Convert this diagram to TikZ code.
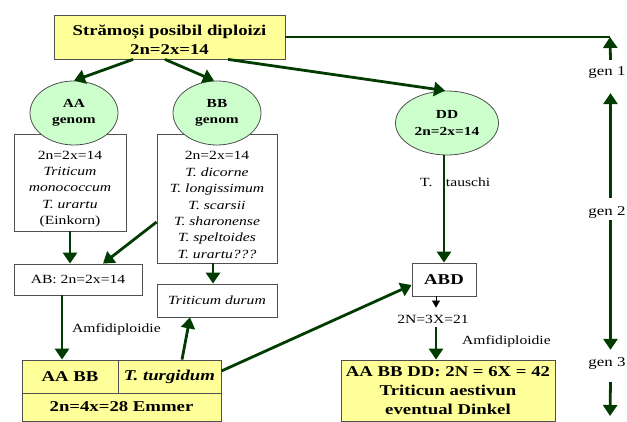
\documentclass[tikz,border=0pt]{standalone}
\usepackage{fontspec}
\setmainfont{Liberation Serif}[FakeStretch=1.25]
\usetikzlibrary{arrows.meta,shapes.geometric}
\definecolor{dgreen}{RGB}{0,60,0}
\definecolor{lyellow}{RGB}{255,255,153}
\definecolor{lgreen}{RGB}{204,255,204}
\definecolor{bordergray}{RGB}{80,80,80}
\begin{document}
\begin{tikzpicture}[x=1pt,y=-1pt,
 arr/.style={draw=dgreen, line width=2.8pt, -{Triangle[length=11pt,width=14pt]}},
 conn/.style={draw=dgreen, line width=2.8pt},
 smallarr/.style={draw=black, line width=0.6pt, -{Triangle[length=7pt,width=8pt]}},
 wbox/.style={draw=bordergray, fill=white, line width=0.8pt, inner sep=0pt},
 ybox/.style={draw=bordergray, fill=lyellow, line width=0.8pt, inner sep=0pt},
 geno/.style={ellipse, draw=bordergray, fill=lgreen, line width=0.8pt, inner sep=0pt, font=\bfseries\fontsize{12.3}{16.5}\selectfont, align=center},
 body/.style={font=\fontsize{12.5}{16.4}\selectfont, align=center, inner sep=0pt},
 boldtxt/.style={font=\bfseries\fontsize{15}{19}\selectfont, align=center, inner sep=0pt},
 genl/.style={font=\fontsize{13.5}{16}\selectfont, inner sep=0pt},
]
\useasboundingbox (0,0) rectangle (627,422);
% top box
\node[ybox, minimum width=231pt, minimum height=44pt] (top) at (169.5,37) {};
\node[boldtxt] (toptext) at (169.5,40) {Strămoși posibil diploizi\\2n=2x=14};
% species boxes
\node[wbox, minimum width=112pt, minimum height=97pt] (aabox) at (70,182.5) {};
\node[body] (aatext) at (70,189) {2n=2x=14\\\textit{Triticum}\\\textit{monococcum}\\\textit{T. urartu}\\(Einkorn)};
\node[wbox, minimum width=120pt, minimum height=129pt] (bbbox) at (217,198.5) {};
\node[body] (bbtext) at (217,205) {2n=2x=14\\\textit{T. dicorne}\\\textit{T. longissimum}\\\textit{T. scarsii}\\\textit{T. sharonense}\\\textit{T. speltoides}\\\textit{T. urartu???}};
% ellipses
\node[geno, minimum width=88pt, minimum height=64pt] (aa) at (74,113) {AA\\genom};
\node[geno, minimum width=88pt, minimum height=64pt] (bb) at (217,113) {BB\\genom};
\node[geno, minimum width=103pt, minimum height=64pt] (dd) at (447,123) {DD\\2n=2x=14};
% middle boxes
\node[wbox, body, minimum width=128pt, minimum height=31pt] (ab) at (78,279.5) {AB: 2n=2x=14};
\node[wbox, body, minimum width=120pt, minimum height=33pt] (durum) at (217,300.5) {\textit{Triticum durum}};
\node[wbox, boldtxt, minimum width=64pt, minimum height=33pt] (abd) at (444,279.5) {ABD};
% bottom tables
\node[ybox, boldtxt, minimum width=96pt, minimum height=33pt] (aabb) at (70,376.5) {AA BB};
\node[ybox, boldtxt, minimum width=103pt, minimum height=33pt] (turg) at (169.5,376.5) {\textit{T. turgidum}};
\node[ybox, boldtxt, minimum width=199pt, minimum height=28pt] (emmer) at (121.5,407) {2n=4x=28 Emmer};
\node[ybox, boldtxt, minimum width=214pt, minimum height=61pt] (aes) at (448,390.5) {AA BB DD: 2N = 6X = 42\\Triticun aestivun\\eventual Dinkel};
% labels
\node[body, anchor=west] (amf1) at (72,329) {Amfidiploidie};
\node[body, anchor=west] (amf2) at (462,341) {Amfidiploidie};
\node[body, anchor=west] (taus) at (420,182) {T.\hspace{13.5pt}tauschi};
\node[body] (n21) at (433,319) {2N=3X=21};
\node[genl] (g1) at (607,73) {gen 1};
\node[genl] (g2) at (607,212) {gen 2};
\node[genl] (g3) at (607,363) {gen 3};
\coordinate (c1) at (610,37);
\coordinate (c4) at (610,416);
% connectors
\draw[arr] ([xshift=-36.5pt]top.south) -- (aa.north);
\draw[arr] ([xshift=-4.5pt]top.south) -- ([xshift=-3pt]bb.north);
\draw[arr] ([xshift=58.5pt]top.south) -- ([xshift=-2pt]dd.north);
\draw[conn] (top.east) -- (c1);
\draw[arr] ([xshift=3.5pt,yshift=7pt]g1.north) -- (c1);
\draw[arr] ([xshift=3.5pt,yshift=8pt]g2.north) -- ([xshift=3.5pt,yshift=-14pt]g1.south);
\draw[arr] ([xshift=3.5pt,yshift=-2pt]g2.south) -- ([xshift=3.5pt,yshift=7pt]g3.north);
\draw[arr] ([xshift=3.5pt,yshift=-13pt]g3.south) -- (c4);
\draw[arr] (aabox.south) -- (aabox.south |- ab.north);
\draw[arr] ([yshift=-23.5pt]bbbox.west) -- ([xshift=25pt]ab.north);
\draw[arr] ([xshift=-4pt]bbbox.south) -- ([xshift=-4pt]durum.north);
\draw[arr] ([xshift=-16pt]ab.south) -- ([xshift=-8pt]aabb.north);
\draw[arr] ([xshift=12.5pt]turg.north) -- ([xshift=-27pt]durum.south);
\draw[arr] ([yshift=5.5pt]turg.east) -- ([yshift=-5.5pt]abd.west);
\draw[arr] (abd.north |- dd.south) -- (abd.north);
\draw[smallarr] ([xshift=-8pt]abd.south) -- ([xshift=3pt,yshift=7pt]n21.north);
\draw[arr] ([xshift=3pt,yshift=-4pt]n21.south) -- ([xshift=-12pt]aes.north);
\end{tikzpicture}
\end{document}
